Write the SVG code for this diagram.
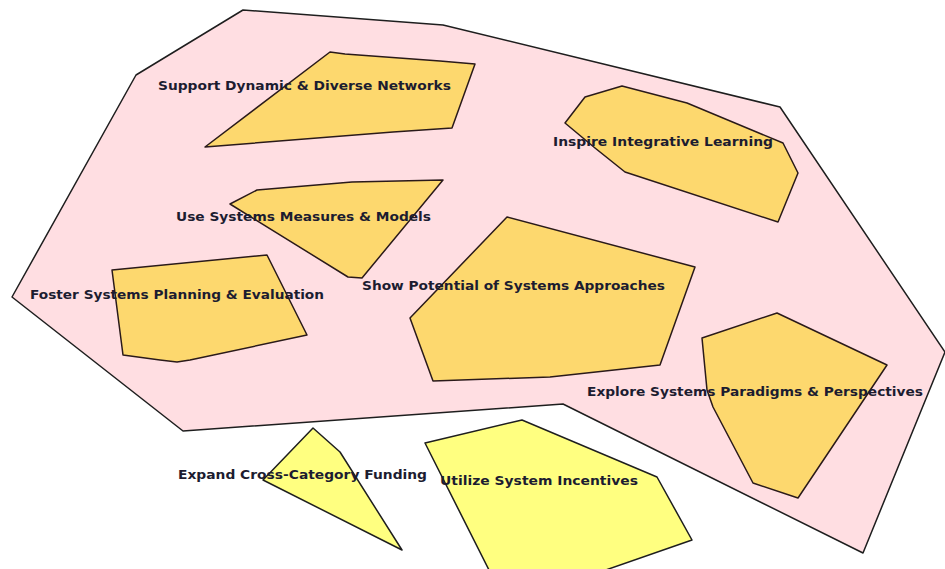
<svg xmlns="http://www.w3.org/2000/svg" width="945" height="569" viewBox="0 0 945 569">
<style>
.outer{fill:#FFDEE2;stroke:#1e1e1e;stroke-width:1.5;stroke-linejoin:round}
.org{fill:#FDD86E;stroke:#2a1a1a;stroke-width:1.5;stroke-linejoin:round}
.yel{fill:#FFFF80;stroke:#1e1e1e;stroke-width:1.5;stroke-linejoin:round}
text{font-family:"DejaVu Sans","Liberation Sans",sans-serif;font-size:13px;font-weight:bold;fill:#1c1c30}
</style>
<rect width="945" height="569" fill="#ffffff"/>
<g id="context">
<polygon class="outer" points="243,10 443,25 780,107 945,352 863,553 563,404 183,431 12,297 136,75"/>
</g>
<g id="support-networks">
<polygon class="org" points="330,52 345,54 440,61 475,64 452,128 393,132 205,147"/>
<text x="158" y="90" textLength="293" lengthAdjust="spacingAndGlyphs">Support Dynamic &amp; Diverse Networks</text>
</g>
<g id="inspire-learning">
<polygon class="org" points="622,86 585,97 565,123 595,148 625,172 778,222 798,173 783,143 687,103"/>
<text x="553" y="146" textLength="220" lengthAdjust="spacingAndGlyphs">Inspire Integrative Learning</text>
</g>
<g id="use-measures">
<polygon class="org" points="443,180 352,182 257,190 230,204 348,277 362,278"/>
<text x="176" y="221" textLength="255" lengthAdjust="spacingAndGlyphs">Use Systems Measures &amp; Models</text>
</g>
<g id="foster-planning">
<polygon class="org" points="112,270 267,255 307,335 190,360 177,362 160,360 123,355"/>
<text x="30" y="299" textLength="294" lengthAdjust="spacingAndGlyphs">Foster Systems Planning &amp; Evaluation</text>
</g>
<g id="show-potential">
<polygon class="org" points="507,217 695,267 660,365 550,377 433,381 410,318"/>
<text x="362" y="290" textLength="303" lengthAdjust="spacingAndGlyphs">Show Potential of Systems Approaches</text>
</g>
<g id="explore-paradigms">
<polygon class="org" points="777,313 702,338 707,390 713,407 753,483 798,498 887,365"/>
<text x="587" y="396" textLength="336" lengthAdjust="spacingAndGlyphs">Explore Systems Paradigms &amp; Perspectives</text>
</g>
<g id="expand-funding">
<polygon class="yel" points="313,428 340,452 402,550 263,480"/>
<text x="178" y="479" textLength="249" lengthAdjust="spacingAndGlyphs">Expand Cross-Category Funding</text>
</g>
<g id="utilize-incentives">
<polygon class="yel" points="425,443 522,420 657,477 692,540 600,572 490,572"/>
<text x="440" y="485" textLength="198" lengthAdjust="spacingAndGlyphs">Utilize System Incentives</text>
</g>
<g id="connectors"></g>
</svg>
